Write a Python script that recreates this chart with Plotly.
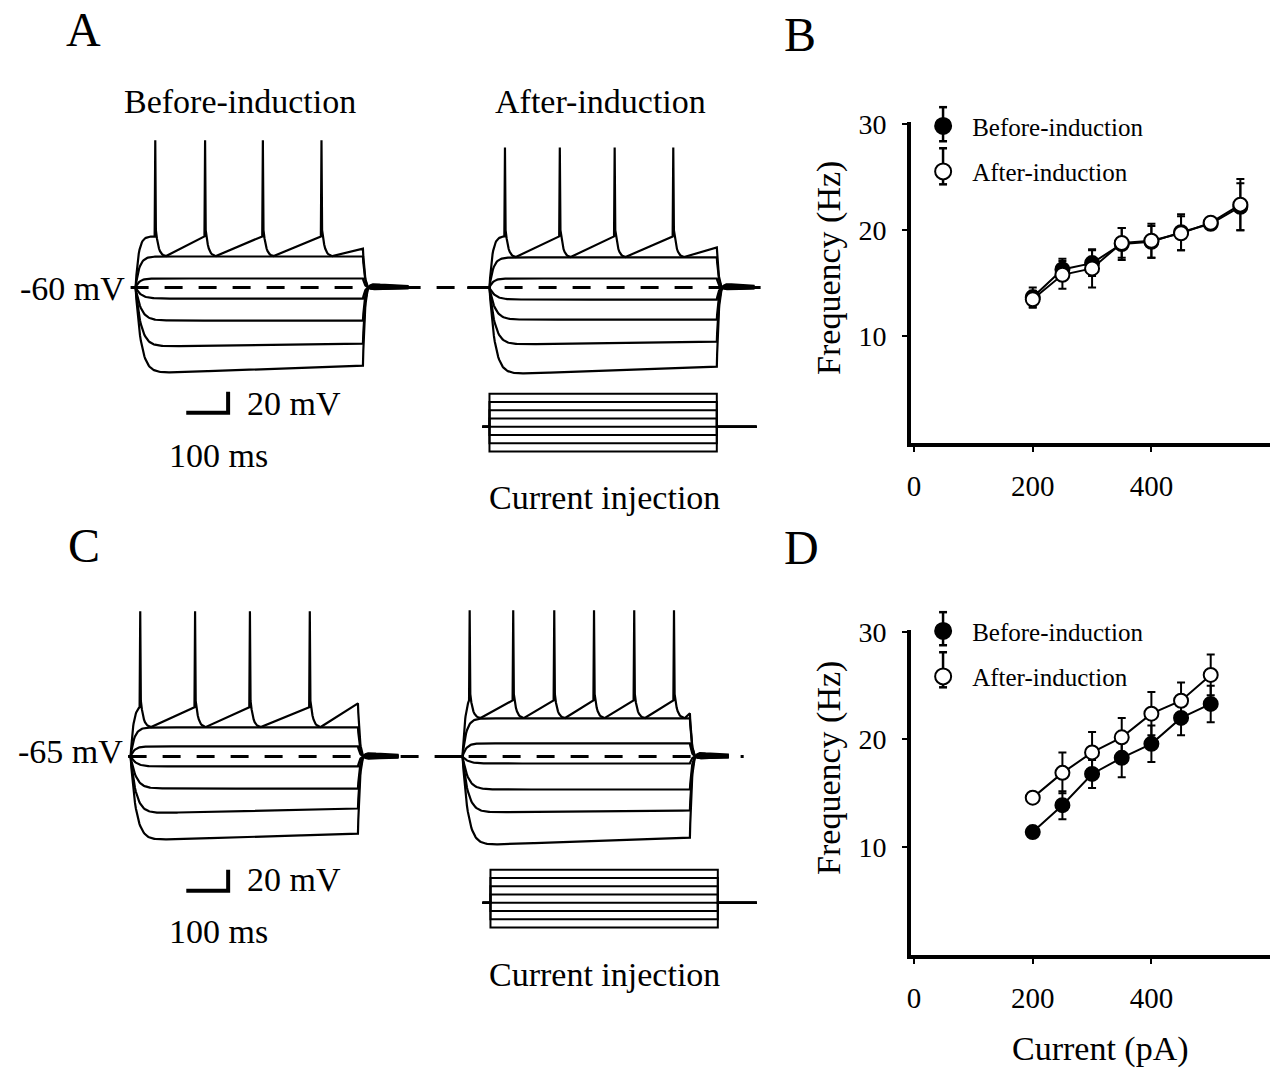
import numpy as np
import plotly.graph_objects as go

# ---------------- data ----------------
CURRENT_PA = [200, 250, 300, 350, 400, 450, 500, 550]
B_BEFORE = [13.7, 16.3, 16.9, 18.7, 18.9, 19.8, 20.6, 22.2]
B_BEFORE_ERR = [0.9, 1.0, 1.2, 1.5, 1.5, 1.7, 0.5, 2.2]
B_AFTER = [13.5, 15.8, 16.4, 18.8, 19.0, 19.7, 20.7, 22.4]
B_AFTER_ERR = [0.8, 1.3, 1.8, 1.4, 1.6, 1.6, 0.5, 2.4]

CURRENT_PA_D = [200, 250, 300, 350, 400, 450, 500]
D_BEFORE = [11.4, 13.9, 16.8, 18.3, 19.6, 22.0, 23.3]
D_BEFORE_ERR = [0.2, 1.3, 1.3, 1.8, 1.7, 1.6, 1.7]
D_AFTER = [14.6, 16.9, 18.8, 20.2, 22.4, 23.6, 26.0]
D_AFTER_ERR = [0.2, 1.9, 1.9, 1.8, 2.0, 1.7, 1.9]

X_TICKS = [0, 200, 400]
Y_TICKS = [10, 20, 30]

PULSE_MS = 543
CURRENT_STEPS_PA = [200, 150, 100, 50, 0, -50, -100, -150]
SCALE_MS = 100
SCALE_MV = 20

# membrane potential sweeps (mV relative to rest): early / late level during pulse
A_REST_MV = -60
A_BEFORE_EARLY = [29.5, 8.6, -10.5, -31.4, -56.2, -81.9]
A_BEFORE_LATE = [29.5, 8.6, -10.5, -31.4, -53.3, -74.3]
A_BEFORE_SPIKES = [47, 166, 304, 444]
A_BEFORE_SPK = dict(peak=140, thr=48.6, trough=29.5, end=37.0)

A_AFTER_EARLY = [28.6, 8.6, -11.4, -30.5, -54.3, -82.9]
A_AFTER_LATE = [28.6, 8.6, -11.4, -30.5, -51.4, -75.2]
A_AFTER_SPIKES = [37, 168, 299, 439]
A_AFTER_SPK = dict(peak=133, thr=48.6, trough=28.6, end=38.0)

C_REST_MV = -65
C_BEFORE_EARLY = [27.6, 9.5, -9.5, -30.5, -54.3, -80.0]
C_BEFORE_LATE = [27.6, 9.5, -9.5, -30.5, -49.5, -73.3]
C_BEFORE_SPIKES = [23, 154, 285, 428]
C_BEFORE_SPK = dict(peak=138, thr=46.7, trough=27.6, end=50.5)

C_AFTER_EARLY = [36.2, 12.4, -6.7, -31.4, -53.3, -84.8]
C_AFTER_LATE = [36.2, 12.4, -6.7, -31.4, -51.4, -77.1]
C_AFTER_SPIKES = [17, 121, 219, 314, 410, 505]
C_AFTER_SPK = dict(peak=139, thr=53.3, trough=36.2, end=41.0)

# ---------------- geometry ----------------
W, H = 1278, 1071
Y_SHIFT, Y_SCALE = 15, 0.985   # compensation of the vertical placement seen in the render
PX_PER_MS = 0.42
PX_PER_MV = 1.05 / Y_SCALE
PX_PER_PA = 0.165 / Y_SCALE
FONT = "Liberation Serif"


def fx(px):
    return px / W


def fy(py):
    return 1 - ((py - Y_SHIFT) / Y_SCALE) / H


def spy(py):
    """target picture y -> layout pixel y"""
    return (py - Y_SHIFT) / Y_SCALE


layout = dict(
    width=W, height=H, margin=dict(l=0, r=0, t=0, b=0),
    paper_bgcolor="white", plot_bgcolor="rgba(0,0,0,0)",
    font=dict(family=FONT, color="black", size=27),
    showlegend=True,
)


def hidden_axes(n, box, onset_px, zero_px, zero_val, ppx, ppy):
    xl, xr, yt, yb = box
    yt_, yb_, z_ = spy(yt), spy(yb), spy(zero_px)
    layout[f"xaxis{n}"] = dict(domain=[fx(xl), fx(xr)],
                               range=[(xl - onset_px) / ppx, (xr - onset_px) / ppx],
                               visible=False, anchor=f"y{n}", fixedrange=True)
    layout[f"yaxis{n}"] = dict(domain=[fy(yb), fy(yt)],
                               range=[zero_val - (yb_ - z_) / ppy, zero_val - (yt_ - z_) / ppy],
                               visible=False, anchor=f"x{n}", fixedrange=True)


def freq_axes(n, box):
    xl, xr, yt, yb = box
    common = dict(showline=True, linewidth=4, linecolor="black", ticks="outside",
                  ticklen=5, tickwidth=2, tickcolor="black", showgrid=False,
                  zeroline=False, fixedrange=True)
    layout[f"xaxis{n}" if n > 1 else "xaxis"] = dict(
        domain=[fx(xl), fx(xr)], range=[-5, 600], tickvals=X_TICKS,
        tickfont=dict(family=FONT, size=29, color="black"),
        anchor=f"y{n}" if n > 1 else "y", ticklabelstandoff=9, **common)
    layout[f"yaxis{n}" if n > 1 else "yaxis"] = dict(
        domain=[fy(yb), fy(yt)], range=[0, 30.15], tickvals=Y_TICKS,
        tickfont=dict(family=FONT, size=28, color="black"),
        anchor=f"x{n}" if n > 1 else "x", ticklabelstandoff=10, **common)


freq_axes(1, (910, 1270, 123, 443))
freq_axes(2, (910, 1270, 630, 954))
hidden_axes(3, (100, 470, 115, 480), 132, 288, A_REST_MV, PX_PER_MS, PX_PER_MV)
hidden_axes(4, (455, 800, 115, 390), 487, 288, A_REST_MV, PX_PER_MS, PX_PER_MV)
hidden_axes(5, (100, 470, 590, 960), 127, 756, C_REST_MV, PX_PER_MS, PX_PER_MV)
hidden_axes(6, (430, 800, 590, 860), 460, 756, C_REST_MV, PX_PER_MS, PX_PER_MV)
hidden_axes(7, (470, 790, 385, 470), 487, 427, 0, PX_PER_MS, PX_PER_PA)
hidden_axes(8, (470, 790, 860, 945), 488, 902, 0, PX_PER_MS, PX_PER_PA)

fig = go.Figure()

# ---------------- sweeps ----------------
TAU_OFF = 4.5


def after_pulse(v_end, t1):
    ta = np.linspace(PULSE_MS, t1, 120)
    d = ta - PULSE_MS
    va = v_end * np.exp(-d / TAU_OFF) - 0.06 * v_end * (np.exp(-d / 90) - np.exp(-d / TAU_OFF))
    return ta, va


def passive_sweep(early, late, t0, t1):
    tau_on = 9.0 if early > 0 else 13.0
    tp = np.linspace(0, PULSE_MS, 260)
    target = early + (late - early) * tp / PULSE_MS
    vp = target * (1 - np.exp(-tp / tau_on))
    ta, va = after_pulse(vp[-1], t1)
    t = np.concatenate([[t0], tp, ta])
    v = np.concatenate([[0.0], vp, va])
    return t, v


def spiking_sweep(spikes, spk, t0, t1):
    peak, thr, trough, vend = spk["peak"], spk["thr"], spk["trough"], spk["end"]
    ts = [t0, 0.0]
    vs = [0.0, 0.0]
    first = spikes[0] - 1.5
    tt = np.linspace(0, first, 25)
    vv = thr * (1 - np.exp(-tt / 7)) / (1 - np.exp(-first / 7))
    ts += list(tt[1:])
    vs += list(vv[1:])
    for i, s in enumerate(spikes):
        ts += [s, s + 1.5, s + 4]
        vs += [peak, thr + 6, thr - 2]
        td = np.linspace(s + 4, s + 26, 10)[1:]
        vd = trough + (thr - 2 - trough) * np.exp(-(td - s - 4) / 6)
        ts += list(td)
        vs += list(vd)
        if i < len(spikes) - 1:
            ts.append(spikes[i + 1] - 1.5)
            vs.append(thr)
        else:
            ts.append(PULSE_MS)
            vs.append(vend)
    ta, va = after_pulse(vend, t1)
    ts += list(ta[1:])
    vs += list(va[1:])
    return np.array(ts), np.array(vs)


def add_panel(n, rest, early, late, spikes, spk, t0, t1):
    line = dict(color="black", width=2.2)
    for e, l in zip(early, late):
        t, v = passive_sweep(e, l, t0, t1)
        fig.add_trace(go.Scatter(x=t, y=rest + v, mode="lines", line=line,
                                 xaxis=f"x{n}", yaxis=f"y{n}", showlegend=False,
                                 hoverinfo="skip"))
    t, v = spiking_sweep(spikes, spk, t0, t1)
    fig.add_trace(go.Scatter(x=t, y=rest + v, mode="lines", line=line,
                             xaxis=f"x{n}", yaxis=f"y{n}", showlegend=False,
                             hoverinfo="skip"))


add_panel(3, A_REST_MV, A_BEFORE_EARLY, A_BEFORE_LATE, A_BEFORE_SPIKES, A_BEFORE_SPK, -5, 652)
add_panel(4, A_REST_MV, A_AFTER_EARLY, A_AFTER_LATE, A_AFTER_SPIKES, A_AFTER_SPK, -52, 633)
add_panel(5, C_REST_MV, C_BEFORE_EARLY, C_BEFORE_LATE, C_BEFORE_SPIKES, C_BEFORE_SPK, -5, 640)
add_panel(6, C_REST_MV, C_AFTER_EARLY, C_AFTER_LATE, C_AFTER_SPIKES, C_AFTER_SPK, -29, 636)

# current injection steps
for n, (t0, t1) in [(7, (-17, 638)), (8, (-19, 636))]:
    for lvl in CURRENT_STEPS_PA:
        fig.add_trace(go.Scatter(x=[t0, 0, 0, PULSE_MS, PULSE_MS, t1],
                                 y=[0, 0, lvl, lvl, 0, 0], mode="lines",
                                 line=dict(color="black", width=2),
                                 xaxis=f"x{n}", yaxis=f"y{n}", showlegend=False,
                                 hoverinfo="skip"))

# scale bars (in the "before" trace axes), anchored below the traces
for n, rest, t_start, bar_px, rest_px in [(3, A_REST_MV, 121, 413, 288), (5, C_REST_MV, 133, 890, 756)]:
    mv_base = rest - (spy(bar_px) - spy(rest_px)) / PX_PER_MV
    fig.add_trace(go.Scatter(x=[t_start, t_start + SCALE_MS, t_start + SCALE_MS],
                             y=[mv_base, mv_base, mv_base + SCALE_MV], mode="lines",
                             line=dict(color="black", width=4),
                             xaxis=f"x{n}", yaxis=f"y{n}", showlegend=False,
                             hoverinfo="skip"))

# ---------------- frequency plots ----------------
def freq_trace(x, y, err, filled, name, xa, ya):
    return go.Scatter(
        x=x, y=y, mode="lines+markers", name=name,
        line=dict(color="black", width=2),
        marker=dict(size=14, symbol="circle",
                    color="black" if filled else "white",
                    line=dict(color="black", width=2)),
        error_y=dict(type="data", array=err, color="black", thickness=2, width=4),
        xaxis=xa, yaxis=ya, showlegend=False, hoverinfo="skip")


fig.add_trace(freq_trace(CURRENT_PA, B_BEFORE, B_BEFORE_ERR, True, "Before-induction", "x", "y"))
fig.add_trace(freq_trace(CURRENT_PA, B_AFTER, B_AFTER_ERR, False, "After-induction", "x", "y"))
fig.add_trace(freq_trace(CURRENT_PA_D, D_BEFORE, D_BEFORE_ERR, True, "Before-induction", "x2", "y2"))
fig.add_trace(freq_trace(CURRENT_PA_D, D_AFTER, D_AFTER_ERR, False, "After-induction", "x2", "y2"))

# legend entries (marker only)
for xa, ya, lg in [("x", "y", "legend"), ("x2", "y2", "legend2")]:
    for name, filled in [("Before-induction", True), ("After-induction", False)]:
        fig.add_trace(go.Scatter(
            x=[None], y=[None], mode="markers", name=name,
            marker=dict(size=16, color="black" if filled else "white",
                        line=dict(color="black", width=2)),
            xaxis=xa, yaxis=ya, legend=lg, legendgroup=lg + name, showlegend=True))

legend_common = dict(font=dict(family=FONT, size=25, color="black"), bgcolor="rgba(0,0,0,0)",
                     xanchor="left", yanchor="top", traceorder="grouped", tracegroupgap=10,
                     itemwidth=48)
layout["legend"] = dict(x=fx(913), y=fy(104), **legend_common)
layout["legend2"] = dict(x=fx(913), y=fy(608), **legend_common)

# ---------------- texts ----------------
ann = []


def text(s, px, py, size=34, xanchor="center", angle=0):
    ann.append(dict(text=s, x=fx(px), y=fy(py), xref="paper", yref="paper",
                    showarrow=False, xanchor=xanchor, yanchor="middle",
                    textangle=angle, font=dict(family=FONT, size=size, color="black")))


text("A", 80, 30, 48)
text("B", 799, 35, 48)
text("C", 80, 545, 48)
text("D", 800, 547, 48)
text("Before-induction", 237, 102)
text("After-induction", 598, 102)
text("-60 mV", 123, 289, 34, "right")
text("-65 mV", 121, 751, 34, "right")
text("20 mV", 242, 404, 34, "left")
text("20 mV", 242, 879, 34, "left")
text("100 ms", 215, 456)
text("100 ms", 215, 931)
text("Current injection", 602, 498)
text("Current injection", 602, 974)
text("Frequency (Hz)", 828, 268, 34, "center", -90)
text("Frequency (Hz)", 828, 767, 34, "center", -90)
text("Current (pA)", 1100, 1048)
layout["annotations"] = ann

# dashed resting-potential lines
shapes = [
    dict(type="line", xref="paper", yref="y3", x0=fx(127), x1=fx(770), y0=A_REST_MV, y1=A_REST_MV,
         line=dict(color="black", width=3, dash="18px,16px")),
    dict(type="line", xref="paper", yref="y5", x0=fx(125), x1=fx(742), y0=C_REST_MV, y1=C_REST_MV,
         line=dict(color="black", width=3, dash="18px,16px")),
]

# error-bar glyphs behind the legend symbols (legend decoration)
for top, bot in [(108, 142), (149, 185), (612, 645), (652, 687)]:
    lx = 942
    seg = dict(type="line", xref="paper", yref="paper", layer="below",
               line=dict(color="black", width=2.5))
    shapes.append(dict(seg, x0=fx(lx), x1=fx(lx), y0=fy(top), y1=fy(bot)))
    shapes.append(dict(seg, x0=fx(lx - 4), x1=fx(lx + 4), y0=fy(top), y1=fy(top)))
    shapes.append(dict(seg, x0=fx(lx - 4), x1=fx(lx + 4), y0=fy(bot), y1=fy(bot)))
layout["shapes"] = shapes

fig.update_layout(**layout)
fig.write_html(
    "out.html",
    config={"displayModeBar": False},
    post_script="document.body.style.margin='0';document.body.style.overflow='hidden';"
                "document.documentElement.style.overflow='hidden';",
)
